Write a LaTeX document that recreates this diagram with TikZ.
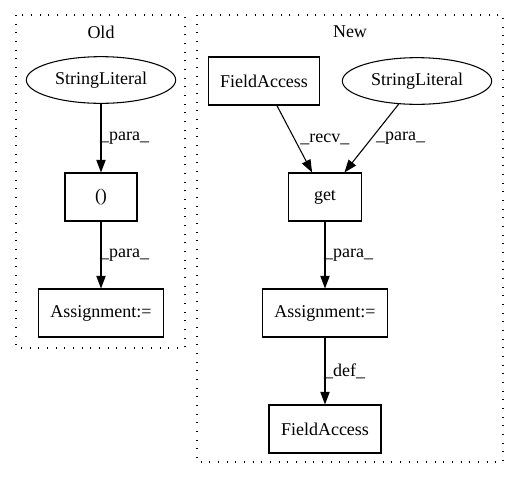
\documentclass[tikz,border=0pt]{standalone}
\usepackage{fontspec}
\setmainfont{Liberation Serif}
\usepackage{tikz}
\usetikzlibrary{shapes,arrows,positioning,calc,arrows.meta}

\begin{document}
\begin{tikzpicture}[x=0.75pt,y=-0.75pt,
    every node/.style={font=\fontsize{13.5}{16}\selectfont},
    box/.style={draw, line width=0.8pt, minimum height=36pt, inner sep=2pt},
    oval/.style={draw, ellipse, line width=0.8pt, minimum width=112pt, minimum height=35pt, inner sep=1pt},
    cluster/.style={line width=0.8pt, dash pattern=on 0.8pt off 5.7pt},
    edge/.style={-{Triangle[length=9.5pt,width=7pt]}, line width=0.8pt},
    lbl/.style={right, inner sep=0pt, xshift=-1pt}]
    \useasboundingbox (0,0) rectangle (519,480);

    % Old
    \draw[cluster] (16,15) rectangle (185,348);
    \node (oldt) at (101,32) {Old};
    \node[oval] (oldstr) at (101,80) {StringLiteral};
    \node[box, minimum width=54pt] (oldpar) at (101,197) {()};
    \node[box, minimum width=94pt] (oldasg) at (101,313) {Assignment:=};
    \draw[edge] (oldstr) -- node[lbl] {\_para\_} (oldpar);
    \draw[edge] (oldpar) -- node[lbl] {\_para\_} (oldasg);

    % New
    \draw[cluster] (197,15) rectangle (503,462);
    \node (newt) at (350,32) {New};
    \node[box, minimum width=83pt] (newfa) at (264,81) {FieldAccess};
    \node[oval] (newstr) at (417,81) {StringLiteral};
    \node[box, minimum width=55pt] (newget) at (325,197) {get};
    \node[box, minimum width=94pt] (newasg) at (325,313) {Assignment:=};
    \node[box, minimum width=84pt] (newfa2) at (325,429) {FieldAccess};
    \draw[edge] (newfa) -- node[lbl, xshift=5pt] {\_recv\_} (newget);
    \draw[edge] (newstr) -- node[lbl, xshift=4pt] {\_para\_} (newget);
    \draw[edge] (newget) -- node[lbl] {\_para\_} (newasg);
    \draw[edge] (newasg) -- node[lbl] {\_def\_} (newfa2);
\end{tikzpicture}
\end{document}
